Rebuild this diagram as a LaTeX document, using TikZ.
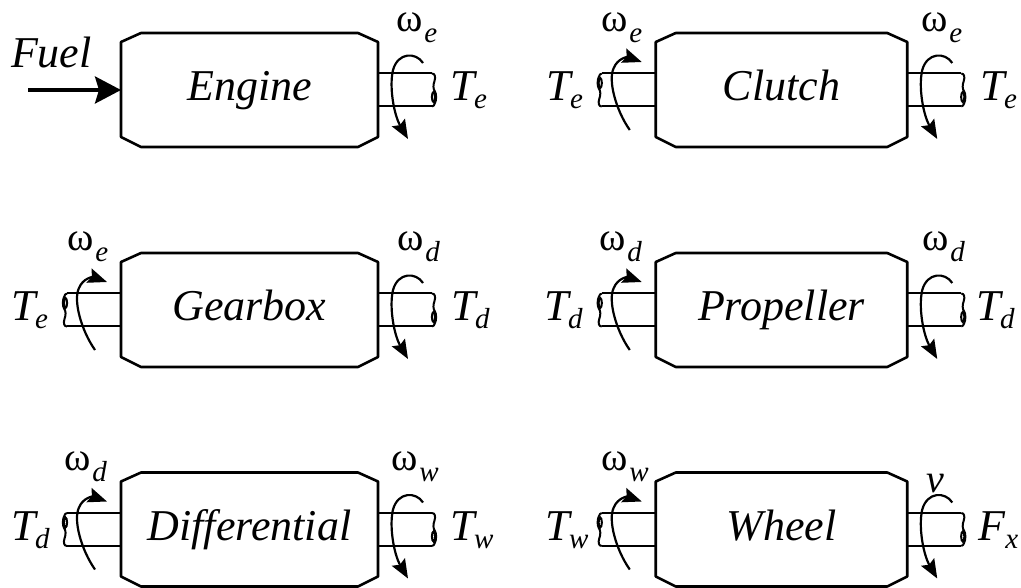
\documentclass[tikz,border=0pt]{standalone}
\usepackage{fontspec}
\setmainfont{Liberation Serif}
\usetikzlibrary{calc,arrows.meta}
\newcommand\tsubl[2]{\textit{#1}\kern-3pt\raisebox{-8pt}{\fontsize{29}{29}\selectfont\textit{#2}}}
\newcommand\wsubl[1]{{\fontsize{40}{40}\selectfont ω}\kern2pt\raisebox{-11pt}{\fontsize{29}{29}\selectfont\textit{#1}}}
\tikzset{
  boxline/.style={line width=2.6pt, line join=round},
  shaftline/.style={line width=2pt},
  rotarrow/.style={line width=2.2pt, -{Stealth[length=19pt,width=15pt,inset=3pt]}},
  fuelarrow/.style={line width=3.5pt, -{Stealth[length=26pt,width=27pt,inset=4pt]}},
  unitbox/.style={inner sep=0pt, outer sep=0pt, minimum height=114pt, text height=30pt, text depth=8pt, font=\fontsize{44}{44}\selectfont\itshape},
  lab/.style={inner sep=0pt, outer sep=0pt, anchor=base west, font=\fontsize{44}{44}\selectfont},
  brk/.pic={
    \draw[shaftline] (-3,-16.5) .. controls (0,-16.5) and (0.8,-13) .. (-0.5,-9)
      .. controls (-2,-5) and (-2,-1) .. (0,1.5)
      .. controls (1.5,4) and (1.5,10) .. (0,13)
      .. controls (-0.8,15) and (-1.5,16.5) .. (-3,16.5);
    \draw[shaftline] (-1.5,7) ellipse (1.6 and 5);
  }
}
\newcommand\chamf[1]{%
  \draw[boxline] ($(#1.north west)+(0,9)$) -- ($(#1.north west)+(20,0)$) -- ($(#1.north east)+(-20,0)$) -- ($(#1.north east)+(0,9)$) -- ($(#1.south east)+(0,-10)$) -- ($(#1.south east)+(-20,0)$) -- ($(#1.south west)+(20,0)$) -- ($(#1.south west)+(0,-10)$) -- cycle;}
\newcommand\shR[1]{%
  \begin{scope}[shift={(#1.east)}]
    \draw[shaftline] (0,-16.5) -- (54,-16.5) (0,16.5) -- (54,16.5);
    \pic at (57,0) {brk};
    \draw[rotarrow] (45,-27) .. controls (38,-38) and (20,-38) .. (15,-20) .. controls (11,-3) and (16,25) .. (30,49);
  \end{scope}}
\newcommand\shL[1]{%
  \begin{scope}[shift={(#1.west)}]
    \draw[shaftline] (0,-16.5) -- (-54,-16.5) (0,16.5) -- (-54,16.5);
    \pic[rotate=180] at (-57,0) {brk};
    \draw[rotarrow] (-26,40) .. controls (-40,20) and (-48,-10) .. (-42,-22) .. controls (-38,-32) and (-28,-33) .. (-14,-28);
  \end{scope}}
\begin{document}
\begin{tikzpicture}[x=1pt,y=-1pt]
\useasboundingbox (0,0) rectangle (1021,588);
% boxes
\node[unitbox, minimum width=257pt] (eng) at (249.5,90) {Engine};
\node[unitbox, minimum width=251.5pt] (clu) at (781.5,90) {Clutch};
\node[unitbox, minimum width=257pt] (gea) at (249.5,310) {Gearbox};
\node[unitbox, minimum width=251.5pt] (pro) at (781.5,310) {Propeller};
\node[unitbox, minimum width=257pt] (dif) at (249.5,529.5) {Differential};
\node[unitbox, minimum width=251.5pt] (whe) at (781.5,529.5) {Wheel};
\chamf{eng}\chamf{clu}\chamf{gea}\chamf{pro}\chamf{dif}\chamf{whe}
% shafts
\shR{eng}
\shL{clu}\shR{clu}
\shL{gea}\shR{gea}
\shL{pro}\shR{pro}
\shL{dif}\shR{dif}
\shL{whe}\shR{whe}
% fuel
\node[lab] (fuel) at (11,68) {\textit{Fuel}};
\coordinate (fuelstart) at (28,90);
\draw[fuelarrow] (fuelstart) -- (eng.west);
% labels row 1
\node[lab] (w1r) at (396,32) {\wsubl{e}};
\node[lab] (t1r) at (450,101) {\tsubl{T}{e}};
\node[lab] (t2l) at (546,101) {\tsubl{T}{e}};
\node[lab] (w2l) at (601,32) {\wsubl{e}};
\node[lab] (w2r) at (921,32) {\wsubl{e}};
\node[lab] (t2r) at (980,101) {\tsubl{T}{e}};
% row 2
\node[lab] (t3l) at (11,321) {\tsubl{T}{e}};
\node[lab] (w3l) at (67,251) {\wsubl{e}};
\node[lab] (w3r) at (397,251) {\wsubl{d}};
\node[lab] (t3r) at (451,321) {\tsubl{T}{d}};
\node[lab] (t4l) at (544,321) {\tsubl{T}{d}};
\node[lab] (w4l) at (599,251) {\wsubl{d}};
\node[lab] (w4r) at (922,251) {\wsubl{d}};
\node[lab] (t4r) at (976,321) {\tsubl{T}{d}};
% row 3
\node[lab] (t5l) at (11,540) {\tsubl{T}{d}};
\node[lab] (w5l) at (64,470) {\wsubl{d}};
\node[lab] (w5r) at (391,470) {\wsubl{w}};
\node[lab] (t5r) at (450,540) {\tsubl{T}{w}};
\node[lab] (t6l) at (545,540) {\tsubl{T}{w}};
\node[lab] (w6l) at (601,470) {\wsubl{w}};
\node[lab, font=\fontsize{40}{40}\selectfont] (v6r) at (926,492) {\textit{v}};
\node[lab] (f6r) at (978,540) {\textit{F}\kern0pt\raisebox{-8pt}{\fontsize{29}{29}\selectfont\textit{x}}};
\end{tikzpicture}
\end{document}
